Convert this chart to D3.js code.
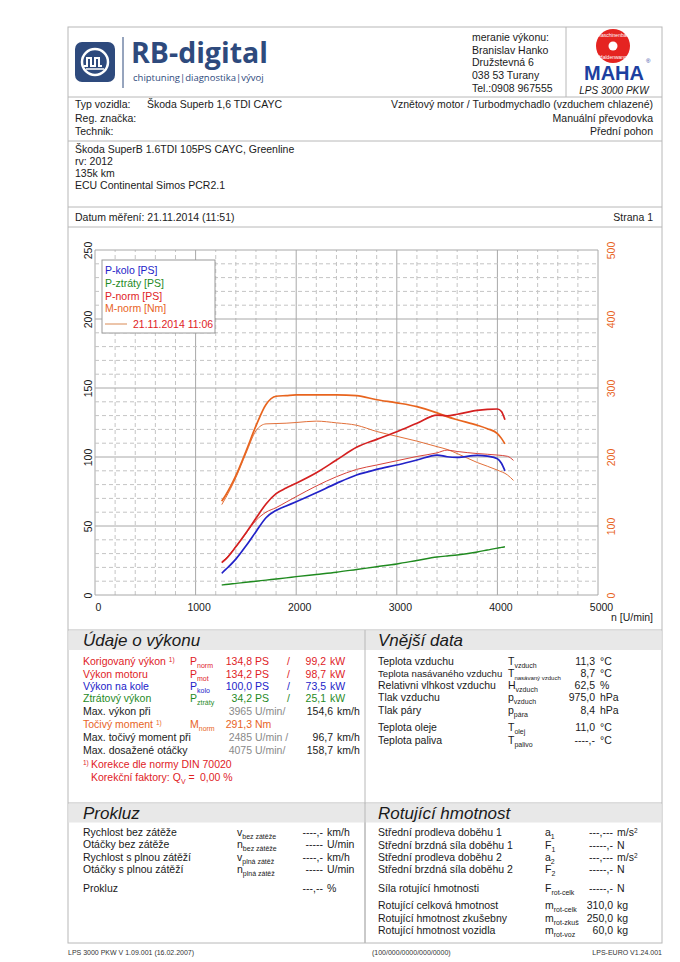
<!DOCTYPE html>
<html>
<head>
<meta charset="utf-8">
<title>LPS 3000 PKW - protokol měření výkonu</title>
<script src="https://d3js.org/d3.v7.min.js"></script>
<style>
body { margin: 0; background: #fff; }
svg text { font-family: 'Liberation Sans', Arial, sans-serif; }
</style>
</head>
<body>
<svg id="page" width="680" height="962"></svg>
<script>
// curve data (main run 11:51)
var rpm = [1260,1300,1400,1500,1600,1700,1800,1900,2000,2200,2400,2600,2800,3000,3200,3400,3500,3600,3800,3900,4000,4040,4075];
var pKolo = [15.7,18.5,26,35.5,45.9,56,61.3,64.5,67.6,74.1,80.9,87,91,94.2,97.8,101.4,100.2,99.8,101.2,100.6,98.8,95.5,90];
var pZtraty = [7.2,7.6,8.4,9.2,10,10.8,11.6,12.4,13.3,14.9,16.5,18.5,20.5,22.5,25,27.5,28.3,29,31.2,32.6,34,34.5,35];
var pNorm = [23.4,26,35,45,55.6,66,73.5,77.5,81,88.6,97.8,107,112.8,118.3,124.4,130.4,129.8,131,133.8,134.5,134.8,133,127];
var mNorm = [136,145,173,208,245,276,288,289,290,290,290,289,283,278.5,273,264,258.5,254,246,241,234,227,219];
// comparison run 21.11.2014 11:06
var rpmCmp = [1260,1300,1400,1500,1600,1700,1800,1900,2000,2200,2400,2600,2800,3000,3200,3400,3500,3600,3800,4000,4100,4160];
var pNormCmp = [24,26.5,35,44.5,54,60,63.3,67.3,71.3,79,85.7,91,94.2,97.3,100.4,103,105,104,102.5,101.4,100.5,97.5];
var mNormCmp = [131,141,170,205,238,248,248.5,249,250,252,249.5,246,237,230,223,215,211,205,192,181,174,166];
// ticks
var xTicks = [0,1000,2000,3000,4000,5000];
var psTicks = [0,50,100,150,200,250];
var nmTicks = [0,100,200,300,400,500];

var RED = '#e0221f', BLUE = '#2222c8', GREEN = '#1f8a1f', ORANGE = '#e8641e', GREY = '#8a8a8a', INK = '#1a1a1a', LINE = '#b8b8b8';
var F = 10.5;
var svg = d3.select('#page');

function txt(x, y, s, color, anchor, size) {
    return svg.append('text').attr('x', x).attr('y', y).attr('fill', color || INK)
        .attr('text-anchor', anchor || 'start').attr('font-size', size || F).text(s);
}
function sym(x, y, main, sub, color) {
    var t = svg.append('text').attr('x', x).attr('y', y).attr('fill', color || INK).attr('font-size', F);
    t.append('tspan').text(main);
    t.append('tspan').attr('font-size', 7).attr('dy', 2.5).text(sub);
    return t;
}
function hline(y, x1, x2, c) {
    svg.append('line').attr('x1', x1 || 68).attr('x2', x2 || 662).attr('y1', y).attr('y2', y).attr('stroke', c || LINE);
}
function vline(x, y1, y2, c) {
    svg.append('line').attr('x1', x).attr('x2', x).attr('y1', y1).attr('y2', y2).attr('stroke', c || LINE);
}

// page frame
svg.append('rect').attr('x', 68).attr('y', 27).attr('width', 594).attr('height', 916)
    .attr('fill', 'none').attr('stroke', LINE);

// ---- header ----
var NAVY = '#2e4a7d';
svg.append('rect').attr('x', 75).attr('y', 42).attr('width', 40).attr('height', 40).attr('rx', 7).attr('fill', NAVY);
svg.append('circle').attr('cx', 95).attr('cy', 62).attr('r', 13).attr('fill', 'none').attr('stroke', '#fff').attr('stroke-width', 2.5);
svg.append('path').attr('d', 'M84,66 h3 v-8 h4 v8 h4 v-8 h4 v8 h3').attr('fill', 'none').attr('stroke', '#fff').attr('stroke-width', 2);
svg.append('line').attr('x1', 86).attr('x2', 104).attr('y1', 69).attr('y2', 69).attr('stroke', '#fff').attr('stroke-width', 1.5);
vline(123, 37, 88, NAVY);
txt(131, 63, 'RB-digital', NAVY, 'start', 28.5).attr('font-weight', 'bold').style('font-family', "'Open Sans', sans-serif");
txt(133, 81, 'chiptuning|diagnostika|vývoj', NAVY, 'start', 9.5).style('font-family', "'Open Sans', sans-serif");

['meranie výkonu:', 'Branislav Hanko', 'Družstevná 6', '038 53 Turany', 'Tel.:0908 967555'].forEach(function(s, i) {
    txt(472, 41 + i * 12.7, s);
});
vline(566, 27, 97);
// MAHA logo
svg.append('circle').attr('cx', 613).attr('cy', 46).attr('r', 17).attr('fill', '#e52421');
svg.append('circle').attr('cx', 613).attr('cy', 46).attr('r', 4.5).attr('fill', '#fff');
svg.append('text').attr('x', 613).attr('y', 37).attr('text-anchor', 'middle').attr('font-size', 5).attr('fill', '#fff').text('Maschinenbau');
svg.append('text').attr('x', 613).attr('y', 59).attr('text-anchor', 'middle').attr('font-size', 5).attr('fill', '#fff').text('Haldenwang');
txt(614, 80, 'MAHA', '#1d3fa0', 'middle', 20).attr('font-weight', 'bold').style('font-family', "'Liberation Sans Narrow', 'Liberation Sans', sans-serif");
txt(646, 63, '®', '#1d3fa0', 'start', 6);
txt(614, 94, 'LPS 3000 PKW', INK, 'middle', 10).attr('font-style', 'italic');
hline(97);

// ---- vehicle ----
txt(75, 108, 'Typ vozidla:'); txt(147, 108, 'Škoda Superb 1,6 TDI CAYC');
txt(653, 108, 'Vznětový motor / Turbodmychadlo (vzduchem chlazené)', INK, 'end');
txt(75, 122, 'Reg. značka:'); txt(653, 122, 'Manuální převodovka', INK, 'end');
txt(75, 135, 'Technik:'); txt(653, 135, 'Přední pohon', INK, 'end');
hline(141);
['Škoda SuperB 1.6TDI 105PS CAYC, Greenline', 'rv: 2012', '135k km', 'ECU Continental Simos PCR2.1'].forEach(function(s, i) {
    txt(75, 153 + i * 12, s);
});
hline(207);
txt(75, 221, 'Datum měření: 21.11.2014 (11:51)');
txt(653, 221, 'Strana 1', INK, 'end');
hline(227);

// ---- chart ----
var x = d3.scaleLinear().domain([0, 5000]).range([95, 598]);
var yP = d3.scaleLinear().domain([0, 250]).range([595, 250]);
var yM = d3.scaleLinear().domain([0, 500]).range([595, 250]);

var grid = svg.append('g');
d3.range(0, 5001, 200).forEach(function(v) {
    grid.append('line').attr('x1', x(v)).attr('x2', x(v)).attr('y1', yP(0)).attr('y2', yP(250))
        .attr('stroke', v % 1000 === 0 ? '#a8a8a8' : '#c4c4c4')
        .attr('stroke-dasharray', v % 1000 === 0 ? null : '4,3');
});
d3.range(0, 251, 10).forEach(function(v) {
    grid.append('line').attr('x1', x(0)).attr('x2', x(5000)).attr('y1', yP(v)).attr('y2', yP(v))
        .attr('stroke', v % 50 === 0 ? '#a8a8a8' : '#c4c4c4')
        .attr('stroke-dasharray', v % 50 === 0 ? null : '4,3');
});

var xAxis = svg.append('g').attr('transform', 'translate(3,595)')
    .call(d3.axisBottom(x).tickValues(xTicks).tickFormat(d3.format('d')).tickSize(0).tickPadding(8.5));
xAxis.select('.domain').remove();
xAxis.selectAll('text').attr('font-size', F).attr('fill', INK).style('font-family', "'Liberation Sans', Arial, sans-serif");

var lAxis = svg.append('g').attr('transform', 'translate(92,0)')
    .call(d3.axisLeft(yP).tickValues(psTicks).tickSize(0));
lAxis.select('.domain').remove();
lAxis.selectAll('text').attr('x', null).attr('dy', null).attr('text-anchor', 'middle')
    .attr('transform', 'rotate(-90)').attr('font-size', F).attr('fill', INK)
    .style('font-family', "'Liberation Sans', Arial, sans-serif");

var rAxis = svg.append('g').attr('transform', 'translate(615,0)')
    .call(d3.axisRight(yM).tickValues(nmTicks).tickSize(0));
rAxis.select('.domain').remove();
rAxis.selectAll('text').attr('x', null).attr('dy', null).attr('text-anchor', 'middle')
    .attr('transform', 'rotate(-90)').attr('font-size', F).attr('fill', ORANGE)
    .style('font-family', "'Liberation Sans', Arial, sans-serif");

txt(611, 621, 'n [U/min]');

function curve(xs, ys, scale, color, w) {
    var pts = xs.map(function(r, i) { return [r, ys[i]]; });
    var line = d3.line().x(function(d) { return x(d[0]); }).y(function(d) { return scale(d[1]); })
        .curve(d3.curveMonotoneX);
    svg.append('path').datum(pts).attr('d', line).attr('fill', 'none')
        .attr('stroke', color).attr('stroke-width', w).attr('stroke-linejoin', 'round');
}
curve(rpmCmp, mNormCmp, yM, '#e2703a', 1);
curve(rpmCmp, pNormCmp, yP, '#d8443a', 1);
curve(rpm, pZtraty, yP, GREEN, 1.4);
curve(rpm, pKolo, yP, BLUE, 1.7);
curve(rpm, mNorm, yM, ORANGE, 1.7);
curve(rpm, pNorm, yP, '#d42020', 1.7);

// legend
svg.append('rect').attr('x', 102).attr('y', 260).attr('width', 113).attr('height', 73)
    .attr('fill', '#fff').attr('stroke', '#9a9a9a');
txt(105, 274, 'P-kolo [PS]', BLUE);
txt(105, 287, 'P-ztráty [PS]', GREEN);
txt(105, 300, 'P-norm [PS]', RED);
txt(105, 312, 'M-norm [Nm]', ORANGE);
svg.append('line').attr('x1', 105).attr('x2', 127).attr('y1', 324).attr('y2', 324).attr('stroke', '#d98a55');
txt(133, 328, '21.11.2014 11:06', RED);

// ---- Údaje o výkonu / Vnější data ----
hline(630);
svg.append('rect').attr('x', 68.5).attr('y', 630.5).attr('width', 593).attr('height', 19.5).attr('fill', '#e8e8e8');
vline(365, 630, 943);
txt(83, 646, 'Údaje o výkonu', INK, 'start', 17).attr('font-style', 'italic');
txt(378, 646, 'Vnější data', INK, 'start', 17).attr('font-style', 'italic');

function note(x, y, s, color) {
    var t = svg.append('text').attr('x', x).attr('y', y).attr('fill', color).attr('font-size', F);
    t.append('tspan').text(s + ' ');
    t.append('tspan').attr('font-size', 6.5).attr('dy', -3).text('1)');
}
note(83, 665, 'Korigovaný výkon', RED);
sym(190, 665, 'P', 'norm', RED);
txt(252, 665, '134,8', RED, 'end'); txt(255, 665, 'PS', RED); txt(287, 665, '/', RED); txt(326, 665, '99,2', RED, 'end'); txt(330, 665, 'kW', RED);
txt(83, 678, 'Výkon motoru', RED);
sym(190, 678, 'P', 'mot', RED);
txt(252, 678, '134,2', RED, 'end'); txt(255, 678, 'PS', RED); txt(287, 678, '/', RED); txt(326, 678, '98,7', RED, 'end'); txt(330, 678, 'kW', RED);
txt(83, 690, 'Výkon na kole', BLUE);
sym(190, 690, 'P', 'kolo', BLUE);
txt(252, 690, '100,0', BLUE, 'end'); txt(255, 690, 'PS', BLUE); txt(287, 690, '/', BLUE); txt(326, 690, '73,5', BLUE, 'end'); txt(330, 690, 'kW', BLUE);
txt(83, 702, 'Ztrátový výkon', GREEN);
sym(190, 702, 'P', 'ztráty', GREEN);
txt(252, 702, '34,2', GREEN, 'end'); txt(255, 702, 'PS', GREEN); txt(287, 702, '/', GREEN); txt(326, 702, '25,1', GREEN, 'end'); txt(330, 702, 'kW', GREEN);
txt(83, 715, 'Max. výkon při');
txt(252, 715, '3965', GREY, 'end'); txt(255, 715, 'U/min/', GREY); txt(333, 715, '154,6', INK, 'end'); txt(337, 715, 'km/h');
note(83, 728, 'Točivý moment', ORANGE);
sym(190, 728, 'M', 'norm', ORANGE);
txt(252, 728, '291,3', ORANGE, 'end'); txt(255, 728, 'Nm', ORANGE);
txt(83, 741, 'Max. točivý moment při');
txt(252, 741, '2485', GREY, 'end'); txt(255, 741, 'U/min /', GREY); txt(333, 741, '96,7', INK, 'end'); txt(337, 741, 'km/h');
txt(83, 754, 'Max. dosažené otáčky');
txt(252, 754, '4075', GREY, 'end'); txt(255, 754, 'U/min/', GREY); txt(333, 754, '158,7', INK, 'end'); txt(337, 754, 'km/h');
txt(83, 765, '1)', RED, 'start', 6.5);
txt(91, 768, 'Korekce dle normy DIN 70020', RED);
var q = svg.append('text').attr('x', 91).attr('y', 781).attr('fill', RED).attr('font-size', F);
q.append('tspan').text('Korekční faktory: Q');
q.append('tspan').attr('font-size', 7).attr('dy', 2.5).text('V');
q.append('tspan').attr('dy', -2.5).text(' =');
txt(200, 781, '0,00 %', RED);

var ext = [
    ['Teplota vzduchu', 'T', 'vzduch', '11,3', '°C'],
    ['Teplota nasávaného vzduchu', 'T', 'nasávaný vzduch', '8,7', '°C'],
    ['Relativni vlhkost vzduchu', 'H', 'vzduch', '62,5', '%'],
    ['Tlak vzduchu', 'p', 'vzduch', '975,0', 'hPa'],
    ['Tlak páry', 'p', 'pára', '8,4', 'hPa'],
    ['Teplota oleje', 'T', 'olej', '11,0', '°C'],
    ['Teplota paliva', 'T', 'palivo', '----,-', '°C']
];
var extY = [665, 677, 689, 701, 714, 731, 744];
ext.forEach(function(r, i) {
    txt(378, extY[i], r[0], INK, 'start', i === 1 ? 9.6 : F);
    var s = sym(508, extY[i], r[1], r[2]);
    if (i === 1) s.select('tspan:last-child').attr('font-size', 6);
    txt(595, extY[i], r[3], INK, 'end');
    txt(600, extY[i], r[4]);
});

// ---- Prokluz / Rotující hmotnost ----
hline(803);
svg.append('rect').attr('x', 68.5).attr('y', 803.5).attr('width', 593).attr('height', 19).attr('fill', '#e8e8e8');
vline(365, 803, 943);
txt(83, 819, 'Prokluz', INK, 'start', 17).attr('font-style', 'italic');
txt(378, 819, 'Rotující hmotnost', INK, 'start', 17).attr('font-style', 'italic');

var slip = [
    ['Rychlost bez zátěže', 'v', 'bez zátěže', '----,-', 'km/h'],
    ['Otáčky bez zátěže', 'n', 'bez zátěže', '-----', 'U/min'],
    ['Rychlost s plnou zátěží', 'v', 'plná zátěž', '----,-', 'km/h'],
    ['Otáčky s plnou zátěží', 'n', 'plná zátěž', '-----', 'U/min'],
    ['Prokluz', '', '', '---,--', '%']
];
var slipY = [836, 848, 861, 873, 892];
slip.forEach(function(r, i) {
    txt(83, slipY[i], r[0]);
    if (r[1]) sym(237, slipY[i], r[1], r[2]);
    txt(323, slipY[i], r[3], INK, 'end');
    txt(327, slipY[i], r[4]);
});

var rot = [
    ['Střední prodleva doběhu 1', 'a', '1', '---,---', 'm/s'],
    ['Střední brzdná síla doběhu 1', 'F', '1', '-----,-', 'N'],
    ['Střední prodleva doběhu 2', 'a', '2', '---,---', 'm/s'],
    ['Střední brzdná síla doběhu 2', 'F', '2', '-----,-', 'N'],
    ['Síla rotující hmotnosti', 'F', 'rot-celk', '-----,-', 'N'],
    ['Rotující celková hmotnost', 'm', 'rot-celk', '310,0', 'kg'],
    ['Rotující hmotnost zkušebny', 'm', 'rot-zkuš', '250,0', 'kg'],
    ['Rotující hmotnost vozidla', 'm', 'rot-voz', '60,0', 'kg']
];
var rotY = [836, 849, 861, 873, 892, 909, 922, 934];
rot.forEach(function(r, i) {
    txt(378, rotY[i], r[0]);
    sym(545, rotY[i], r[1], r[2]);
    txt(613, rotY[i], r[3], INK, 'end');
    var u = txt(617, rotY[i], r[4]);
    if (r[4] === 'm/s') u.append('tspan').attr('font-size', 6.5).attr('dy', -3).text('2');
});

// footer
txt(68, 955, 'LPS 3000 PKW V 1.09.001 (16.02.2007)', '#333', 'start', 7);
txt(372, 955, '(100/000/0000/000/0000)', '#333', 'start', 7);
txt(662, 955, 'LPS-EURO V1.24.001', '#333', 'end', 7);
</script>
</body>
</html>
